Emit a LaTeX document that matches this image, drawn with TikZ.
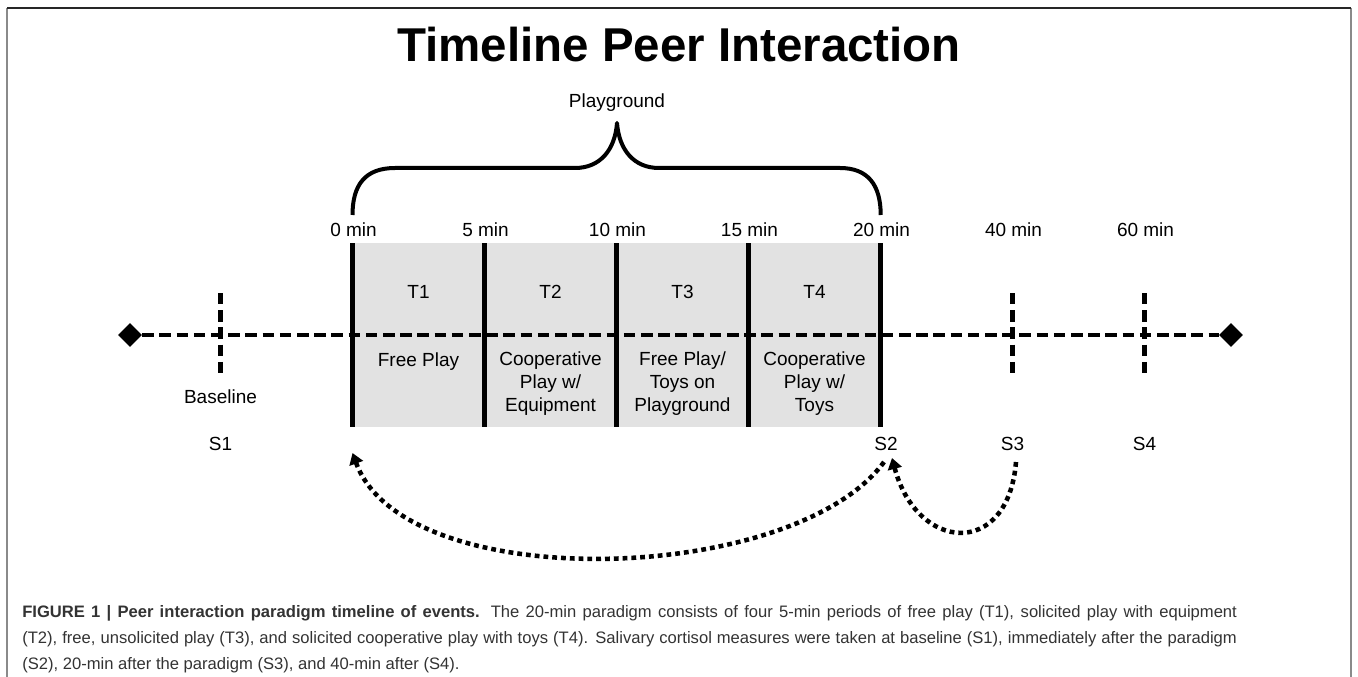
\documentclass[tikz,border=0pt]{standalone}
\usepackage{fontspec}
\setmainfont{Liberation Sans}
\usetikzlibrary{shapes,arrows.meta}

\definecolor{boxgray}{HTML}{E2E2E2}
\definecolor{framegray}{HTML}{8A8A8A}
\definecolor{captext}{HTML}{333333}

\tikzset{
  lbl/.style={font=\fontsize{14.25}{16.9}\selectfont, align=center, anchor=base, inner sep=0pt},
  bar/.style={line width=3.4pt},
  dashline/.style={line width=3.4pt, dash pattern=on 8.6pt off 4.3pt},
  dotarc/.style={line width=3.4pt, dash pattern=on 3.6pt off 3pt, -{Triangle[length=8.3pt,width=10.5pt]}},
  endmark/.style={diamond, fill=black, inner sep=0pt, minimum size=18pt}
}

\begin{document}
\begin{tikzpicture}[x=0.75pt,y=-0.75pt]
\useasboundingbox (0,0) rectangle (1358,677);
% frame
\draw[framegray, line width=1.5pt] (7,677) -- (7,8) (1351,8) -- (1351,677);
\draw[black!85, line width=1.5pt] (7,8) -- (1351,8);

\node[font=\fontsize{35.6}{40}\selectfont\bfseries, anchor=base] (title) at (679,62) {Timeline Peer Interaction};

% playground brace
\node[lbl] (play) at (617,108) {Playground};
\draw[line width=3pt, line join=round] (352.5,215) .. controls (352.5,185) and (365,168) .. (395,168) -- (575,168)
  .. controls (600,168) and (615,150) .. (617,123)
  .. controls (619,150) and (634,168) .. (659,168) -- (840,168)
  .. controls (868,168) and (880.7,185) .. (880.7,215);

% periods
\fill[boxgray] (352.5,243) rectangle (880.7,427);
\foreach \i/\t in {0/0,1/5,2/10,3/15,4/20,5/40,6/60}
  \node[lbl] (m\t) at ({353.5+132*\i},237) {\t\ min};
% base of the last line of each text
\foreach \i/\p/\y/\d in {0/T1/366/{Free Play},1/T2/411/{Cooperative\\Play w/\\Equipment},
    2/T3/411/{Free Play/\\Toys on\\Playground},3/T4/411/{Cooperative\\Play w/\\Toys}} {
  \node[lbl] (\p) at ({418.5+132*\i},298) {\p};
  \node[lbl] (\p d) at ({418.5+132*\i},\y) {\d};
}

% time line
\node[endmark] (endL) at (130,335) {};
\node[endmark] (endR) at (1231,335) {};
\draw[dashline] (endL) -- (endR);
\foreach \i in {0,...,4} {
  \coordinate (top\i) at ({352.5+132*\i},243);
  \coordinate (bot\i) at ({352.5+132*\i},427);
  \draw[bar] (top\i) -- (bot\i);
}
\foreach \i/\x in {1/220.5,3/1012.5,4/1144.5} {
  \coordinate (up\i) at (\x,293);
  \coordinate (lo\i) at (\x,375);
  \draw[dashline] (up\i) -- (lo\i);
}

% samples
\node[lbl] (base) at (220.5,403) {Baseline};
\node[lbl] (s1) at (220.5,450) {S1};
\node[lbl] (s2) at (886,450) {S2};
\node[lbl] (s3) at (1012.5,450) {S3};
\node[lbl] (s4) at (1144.5,450) {S4};

\coordinate (a2) at (884,462);
\coordinate (t0) at (352.5,453);
\coordinate (a3) at (1016,462);
\coordinate (t2) at (892,458);
\draw[dotarc] (a2) .. controls (794,585) and (405,597) .. (t0);
\draw[dotarc] (a3) .. controls (1008,559) and (917,552) .. (t2);

% caption
\node[anchor=base west, align=justify, text width=911pt, inner sep=0pt, text=captext, font=\fontsize{12.45}{19.5}\selectfont] (cap) at (22,617)
  {{\bfseries FIGURE 1 | Peer interaction paradigm timeline of events.} The 20-min paradigm consists of four 5-min periods of free play (T1), solicited play with equipment\linebreak
   (T2), free, unsolicited play (T3), and solicited cooperative play with toys (T4). Salivary cortisol measures were taken at baseline (S1), immediately after the paradigm\linebreak
   (S2), 20-min after the paradigm (S3), and 40-min after (S4).};
\end{tikzpicture}
\end{document}
